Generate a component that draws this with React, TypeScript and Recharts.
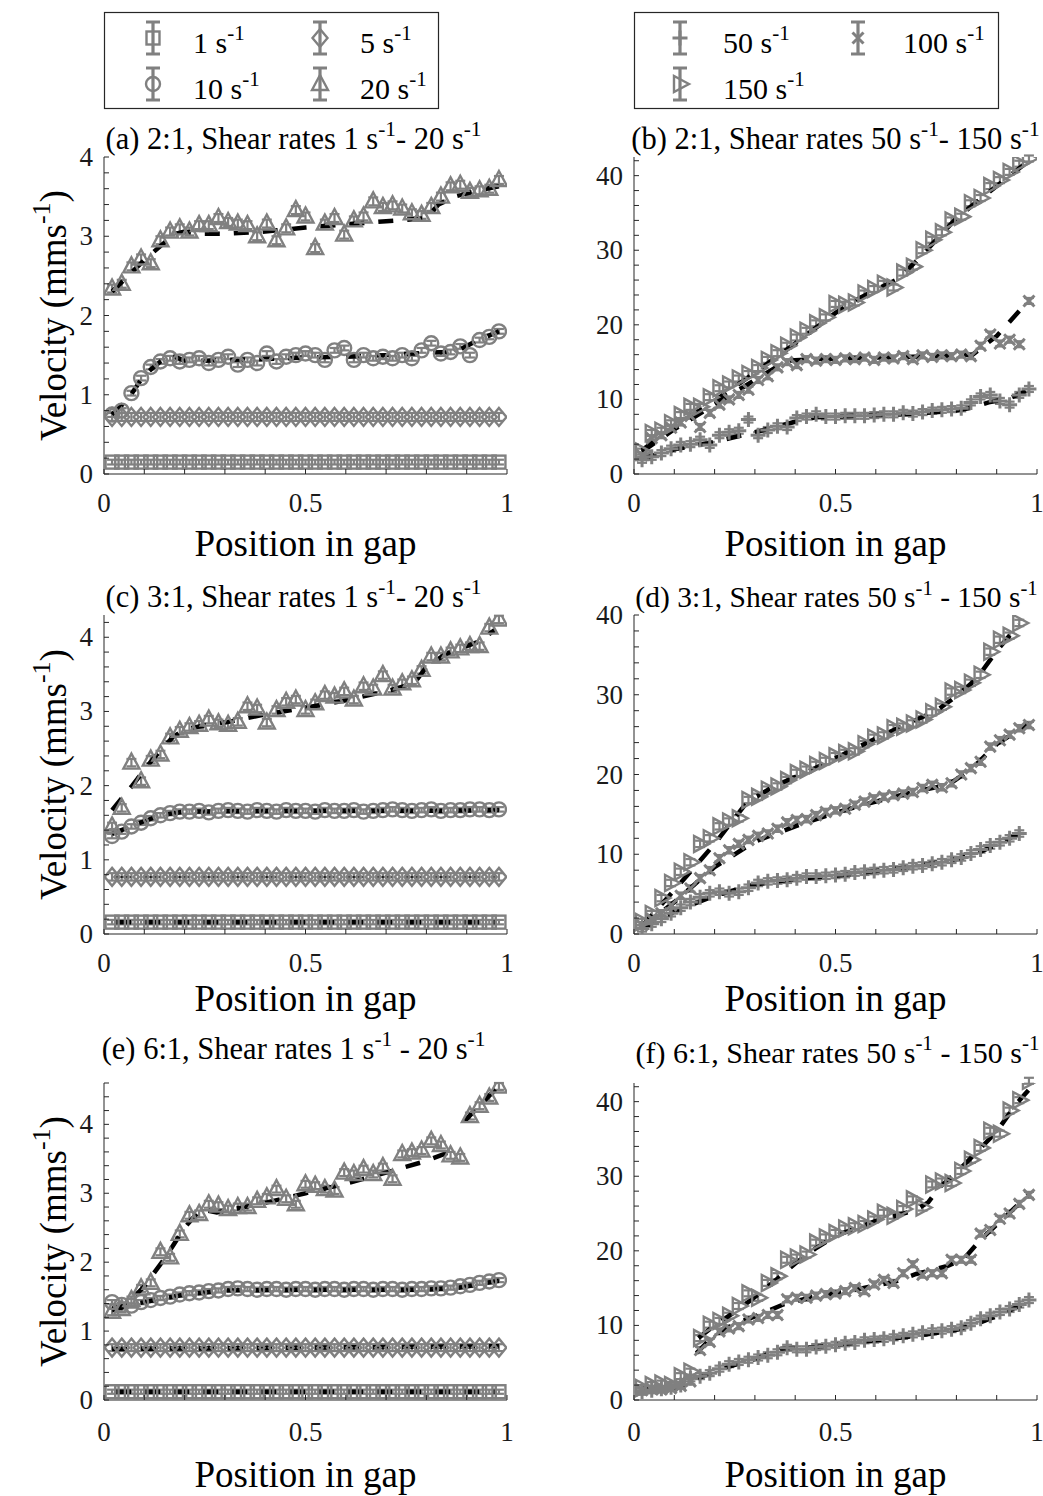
import React from 'react';
import { ComposedChart, Scatter, Line, XAxis, YAxis, ErrorBar } from 'recharts';

// ---------- shared x positions (position in gap) ----------
const POS = [
  0.02, 0.044, 0.068, 0.092, 0.116, 0.14, 0.164, 0.188, 0.212, 0.236,
  0.26, 0.284, 0.308, 0.332, 0.356, 0.38, 0.404, 0.428, 0.452, 0.476,
  0.5, 0.524, 0.548, 0.572, 0.596, 0.62, 0.644, 0.668, 0.692, 0.716,
  0.74, 0.764, 0.788, 0.812, 0.836, 0.86, 0.884, 0.908, 0.932, 0.956,
  0.98,
];

// ---------- panel (a) 2:1, 1-20 s^-1 ----------
const A_1 = [
  0.15, 0.15, 0.15, 0.15, 0.15, 0.15, 0.15, 0.15, 0.15, 0.15,
  0.15, 0.15, 0.15, 0.15, 0.15, 0.15, 0.15, 0.15, 0.15, 0.15,
  0.15, 0.15, 0.15, 0.15, 0.15, 0.15, 0.15, 0.15, 0.15, 0.15,
  0.15, 0.15, 0.15, 0.15, 0.15, 0.15, 0.15, 0.15, 0.15, 0.15,
  0.15,
];
const A_5 = [
  0.72, 0.72, 0.72, 0.72, 0.72, 0.72, 0.72, 0.72, 0.72, 0.72,
  0.72, 0.72, 0.72, 0.72, 0.72, 0.72, 0.72, 0.72, 0.72, 0.72,
  0.72, 0.72, 0.72, 0.72, 0.72, 0.72, 0.72, 0.72, 0.72, 0.72,
  0.72, 0.72, 0.72, 0.72, 0.72, 0.72, 0.72, 0.72, 0.72, 0.72,
  0.72,
];
const A_10 = [
  0.75, 0.8, 1.02, 1.21, 1.35, 1.42, 1.46, 1.42, 1.44, 1.46,
  1.4, 1.44, 1.48, 1.38, 1.44, 1.4, 1.52, 1.42, 1.48, 1.5,
  1.52, 1.5, 1.44, 1.56, 1.59, 1.44, 1.5, 1.46, 1.48, 1.46,
  1.5, 1.46, 1.56, 1.65, 1.52, 1.54, 1.61, 1.5, 1.69, 1.73,
  1.8,
];
const A_20 = [
  2.34, 2.4, 2.62, 2.72, 2.66, 2.95, 3.06, 3.1, 3.06, 3.14,
  3.14, 3.23, 3.18, 3.16, 3.14, 3.0, 3.16, 2.95, 3.1, 3.33,
  3.25, 2.85, 3.16, 3.23, 3.02, 3.2, 3.25, 3.44, 3.37, 3.39,
  3.35, 3.29, 3.27, 3.37, 3.5, 3.63, 3.65, 3.56, 3.58, 3.6,
  3.71,
];
const A_F10_X = [0.02, 0.06, 0.1, 0.14, 0.165, 0.2, 0.25, 0.3, 0.4, 0.5, 0.6, 0.7, 0.8, 0.85, 0.88, 0.92, 0.98];
const A_F10_Y = [0.75, 0.95, 1.25, 1.42, 1.5, 1.43, 1.43, 1.44, 1.45, 1.47, 1.48, 1.5, 1.53, 1.54, 1.56, 1.67, 1.8];
const A_F20_X = [0.02, 0.05, 0.1, 0.15, 0.17, 0.2, 0.25, 0.3, 0.4, 0.5, 0.6, 0.7, 0.78, 0.8, 0.83, 0.87, 0.93, 0.98];
const A_F20_Y = [2.3, 2.45, 2.7, 2.92, 3.02, 3.06, 3.03, 3.03, 3.06, 3.11, 3.15, 3.19, 3.22, 3.23, 3.4, 3.5, 3.58, 3.63];

// ---------- panel (b) 2:1, 50-150 s^-1 ----------
const B_50 = [
  1.9, 2.3, 2.8, 3.4, 3.9, 4.0, 4.6, 3.9, 5.2, 5.6,
  5.8, 7.3, 5.2, 5.9, 6.4, 6.3, 7.5, 7.7, 8.0, 7.7,
  7.7, 7.8, 7.8, 7.8, 7.9, 8.0, 8.0, 8.2, 8.1, 8.3,
  8.5, 8.6, 8.7, 8.8, 9.6, 10.4, 10.6, 9.8, 9.3, 10.6,
  11.4,
];
const B_100 = [
  2.5, 4.8, 5.2, 6.2, 6.9, 7.8, 6.3, 8.2, 9.3, 10.0,
  10.6, 11.3, 12.6, 13.1, 14.3, 15.0, 14.6, 15.4, 15.2, 15.4,
  15.3, 15.5, 15.4, 15.6, 15.3, 15.6, 15.5, 15.8, 15.4, 15.9,
  15.7, 15.9, 15.8, 16.0, 15.8, 17.2, 18.7, 17.5, 18.0, 17.4,
  23.2,
];
const B_150 = [
  3.0, 5.5, 5.8, 6.8, 7.9, 9.0, 9.0, 10.3, 11.5, 12.0,
  12.8, 13.4, 14.2, 15.3, 16.2, 17.2, 18.3, 19.2, 20.2, 21.0,
  22.8, 22.7, 23.0, 24.2, 24.8, 25.5, 25.0, 27.0, 27.8, 30.0,
  31.4, 32.4, 34.0, 34.5, 36.3, 37.0, 38.6, 39.4, 40.5, 41.6,
  42.3,
];
const B_F50_X = [0.02, 0.1, 0.2, 0.3, 0.4, 0.45, 0.5, 0.6, 0.7, 0.8, 0.83, 0.88, 0.93, 0.98];
const B_F50_Y = [2.0, 3.3, 4.3, 5.6, 7.0, 7.6, 7.7, 7.9, 8.1, 8.5, 8.8, 9.6, 10.1, 11.3];
const B_F100_X = [0.02, 0.1, 0.2, 0.3, 0.38, 0.45, 0.6, 0.75, 0.84, 0.9, 0.98];
const B_F100_Y = [3.0, 6.0, 9.3, 12.6, 15.2, 15.4, 15.6, 15.8, 16.0, 18.5, 23.3];
const B_F150_X = [0.02, 0.1, 0.2, 0.3, 0.4, 0.5, 0.55, 0.6, 0.65, 0.7, 0.8, 0.9, 0.98];
const B_F150_Y = [3.2, 6.3, 9.8, 13.6, 17.5, 21.6, 23.3, 24.7, 26.0, 28.5, 34.3, 38.6, 42.0];

// ---------- panel (c) 3:1, 1-20 s^-1 ----------
const C_1 = [
  0.16, 0.16, 0.16, 0.16, 0.16, 0.16, 0.16, 0.16, 0.16, 0.16,
  0.16, 0.16, 0.16, 0.16, 0.16, 0.16, 0.16, 0.16, 0.16, 0.16,
  0.16, 0.16, 0.16, 0.16, 0.16, 0.16, 0.16, 0.16, 0.16, 0.16,
  0.16, 0.16, 0.16, 0.16, 0.16, 0.16, 0.16, 0.16, 0.16, 0.16,
  0.16,
];
const C_5 = [
  0.77, 0.77, 0.77, 0.77, 0.77, 0.77, 0.77, 0.77, 0.77, 0.77,
  0.77, 0.77, 0.77, 0.77, 0.77, 0.77, 0.77, 0.77, 0.77, 0.77,
  0.77, 0.77, 0.77, 0.77, 0.77, 0.77, 0.77, 0.77, 0.77, 0.77,
  0.77, 0.77, 0.77, 0.77, 0.77, 0.77, 0.77, 0.77, 0.77, 0.77,
  0.77,
];
const C_10 = [
  1.32, 1.38, 1.45, 1.5, 1.56, 1.6, 1.63, 1.65, 1.65, 1.66,
  1.64, 1.66, 1.67, 1.66, 1.65, 1.67, 1.66, 1.65, 1.67, 1.66,
  1.66, 1.65, 1.67, 1.66, 1.66, 1.67, 1.65, 1.66, 1.67, 1.68,
  1.67, 1.66, 1.67, 1.68, 1.66, 1.67, 1.67, 1.68, 1.68, 1.67,
  1.68,
];
const C_20 = [
  1.45, 1.7, 2.31, 2.06, 2.35, 2.42, 2.65, 2.74, 2.79, 2.82,
  2.89, 2.84, 2.82, 2.86, 3.07, 3.04, 2.85, 3.02, 3.13, 3.16,
  3.02, 3.11, 3.22, 3.2, 3.27, 3.16, 3.34, 3.31, 3.49, 3.31,
  3.38, 3.42, 3.56, 3.74, 3.74, 3.81, 3.85, 3.88, 3.88, 4.13,
  4.24,
];
const C_F1_X = [0.03, 0.97];
const C_F1_Y = [0.16, 0.16];
const C_F5_X = [0.03, 0.97];
const C_F5_Y = [0.77, 0.77];
const C_F10_X = [0.02, 0.08, 0.14, 0.2, 0.5, 0.8, 0.98];
const C_F10_Y = [1.35, 1.48, 1.6, 1.65, 1.66, 1.66, 1.67];
const C_F20_X = [0.02, 0.07, 0.12, 0.17, 0.2, 0.25, 0.3, 0.4, 0.5, 0.6, 0.7, 0.77, 0.8, 0.85, 0.93, 0.97];
const C_F20_Y = [1.67, 2.0, 2.35, 2.65, 2.76, 2.81, 2.85, 2.96, 3.05, 3.15, 3.27, 3.38, 3.6, 3.78, 3.94, 4.1];

// ---------- panel (d) 3:1, 50-150 s^-1 ----------
const D_50 = [
  0.7, 1.3, 1.9, 2.6, 3.3, 4.0, 4.6, 5.1, 5.3, 5.1,
  5.3, 5.8, 6.4, 6.6, 6.7, 6.8, 7.0, 7.2, 7.2, 7.3,
  7.4, 7.5, 7.7, 7.8, 7.9, 8.0, 8.1, 8.3, 8.5, 8.6,
  8.8, 9.0, 9.3, 9.6, 10.1, 10.6, 11.1, 11.5, 12.0, 12.6,
  null,
];
const D_100 = [
  1.1, 1.9, 2.6, 3.6, 4.8, 5.7, 7.0, 8.0, 9.5, 10.5,
  11.3, 11.8, 12.3, 12.6, 13.2, 14.0, 14.3, 14.4, 14.9, 15.3,
  15.5, 15.7, 16.2, 16.6, 17.0, 17.2, 17.4, 17.6, 17.8, 18.3,
  18.7, 18.4, 18.9, 20.0, 20.8, 21.6, 23.5, 24.3, 25.0, 25.8,
  26.2,
];
const D_150 = [
  1.5, 2.5, 4.5, 6.4, 7.8, 9.0, 11.3, 12.0, 13.5, 14.1,
  14.5, 16.8, 17.2, 18.1, 18.5, 19.3, 20.2, 20.6, 21.2, 21.7,
  22.3, 22.7, 22.9, 23.8, 24.6, 24.9, 25.8, 26.0, 26.4, 26.9,
  27.8, 28.5, 30.4, 30.6, 31.5, 32.5, 35.4, 36.9, 37.4, 39.0,
  null,
];
const D_F50_X = [0.02, 0.1, 0.2, 0.3, 0.4, 0.5, 0.6, 0.7, 0.8, 0.85, 0.9, 0.955];
const D_F50_Y = [0.7, 2.8, 4.8, 6.2, 6.9, 7.3, 7.9, 8.5, 9.4, 10.1, 11.2, 12.6];
const D_F100_X = [0.02, 0.1, 0.2, 0.3, 0.4, 0.5, 0.6, 0.7, 0.78, 0.84, 0.9, 0.98];
const D_F100_Y = [0.8, 4.0, 8.4, 11.6, 13.5, 15.2, 16.6, 17.9, 18.7, 20.8, 23.8, 26.4];
const D_F150_X = [0.02, 0.1, 0.2, 0.28, 0.35, 0.45, 0.55, 0.65, 0.75, 0.8, 0.85, 0.9, 0.955];
const D_F150_Y = [1.0, 5.5, 11.3, 16.5, 18.6, 20.8, 23.3, 25.7, 28.0, 29.8, 32.0, 35.5, 38.8];

// ---------- panel (e) 6:1, 1-20 s^-1 ----------
const E_1 = [
  0.12, 0.12, 0.12, 0.12, 0.12, 0.12, 0.12, 0.12, 0.12, 0.12,
  0.12, 0.12, 0.12, 0.12, 0.12, 0.12, 0.12, 0.12, 0.12, 0.12,
  0.12, 0.12, 0.12, 0.12, 0.12, 0.12, 0.12, 0.12, 0.12, 0.12,
  0.12, 0.12, 0.12, 0.12, 0.12, 0.12, 0.12, 0.12, 0.12, 0.12,
  0.12,
];
const E_5 = [
  0.76, 0.76, 0.76, 0.76, 0.76, 0.76, 0.76, 0.76, 0.76, 0.76,
  0.76, 0.76, 0.76, 0.76, 0.76, 0.76, 0.76, 0.76, 0.76, 0.76,
  0.76, 0.76, 0.76, 0.76, 0.76, 0.76, 0.76, 0.76, 0.76, 0.76,
  0.76, 0.76, 0.76, 0.76, 0.76, 0.76, 0.76, 0.76, 0.76, 0.76,
  0.76,
];
const E_10 = [
  1.42, 1.38, 1.37, 1.42, 1.45, 1.48, 1.5, 1.53, 1.55, 1.56,
  1.58, 1.59, 1.61, 1.62, 1.61, 1.6, 1.61, 1.61, 1.6, 1.61,
  1.61, 1.6, 1.61, 1.61, 1.6, 1.61, 1.61, 1.6, 1.61, 1.61,
  1.6, 1.61, 1.61, 1.62, 1.62, 1.63, 1.65, 1.67, 1.7, 1.72,
  1.74,
];
const E_20 = [
  1.28, 1.32, 1.45, 1.62, 1.7, 2.15, 2.07, 2.41, 2.68, 2.7,
  2.84, 2.82, 2.77, 2.8, 2.8, 2.89, 2.94, 3.06, 2.92, 2.84,
  3.13, 3.11, 3.06, 3.04, 3.3, 3.28, 3.35, 3.28, 3.38, 3.21,
  3.57, 3.59, 3.62, 3.76, 3.7, 3.55, 3.52, 4.12, 4.27, 4.39,
  4.55,
];
const E_F1_X = [0.03, 0.97];
const E_F1_Y = [0.12, 0.12];
const E_F5_X = [0.02, 0.98];
const E_F5_Y = [0.74, 0.78];
const E_F10_X = [0.02, 0.1, 0.2, 0.3, 0.5, 0.8, 0.88, 0.98];
const E_F10_Y = [1.33, 1.42, 1.53, 1.59, 1.6, 1.6, 1.63, 1.73];
const E_F20_X = [0.02, 0.05, 0.1, 0.15, 0.2, 0.24, 0.28, 0.4, 0.5, 0.6, 0.7, 0.8, 0.875, 0.885, 0.895, 0.98];
const E_F20_Y = [1.3, 1.35, 1.65, 2.05, 2.5, 2.77, 2.72, 2.86, 3.0, 3.14, 3.3, 3.47, 3.64, null, 4.05, 4.56];

// ---------- panel (f) 6:1, 50-150 s^-1 ----------
const F_50 = [
  1.1, 1.3, 1.5, 1.7, 2.0, 2.9, 3.2, 3.6, 4.2, 4.8,
  5.1, 5.4, 5.7, 6.0, 6.4, 7.0, 6.8, 6.8, 7.1, 7.2,
  7.4, 7.6, 7.7, 8.0, 8.1, 8.2, 8.4, 8.6, 8.8, 9.0,
  9.2, 9.3, 9.5, 9.7, 10.3, 10.9, 11.3, 11.8, 12.2, 12.8,
  13.4,
];
const F_100 = [
  1.3, 1.5, 1.4, 1.6, 1.9, 2.5, 6.7, 7.8, 9.2, 9.6,
  9.9, 10.8, 11.0, 11.4, 11.4, 13.5, 13.7, 13.7, 14.0, 14.2,
  14.3, 14.6, 15.0, 14.6, 15.5, 16.1, 15.7, 17.0, 18.2, 16.8,
  17.0, 17.0, 18.8, 18.8, 18.8, 22.3, 22.8, 24.3, 25.0, 26.3,
  27.5,
];
const F_150 = [
  1.6, 2.0, 2.2, 2.0, 3.2, 3.8, 8.3, 10.1, 10.6, 11.3,
  12.6, 14.3, 13.7, 15.7, 16.6, 18.8, 19.1, 19.5, 21.1, 21.8,
  22.4, 23.0, 23.3, 23.6, 24.2, 25.1, 24.7, 25.6, 26.9, 25.8,
  28.9, 29.3, 29.1, 30.7, 32.2, 33.8, 36.1, 35.7, 38.8, 40.2,
  42.8,
];
const F_F50_X = [0.02, 0.1, 0.13, 0.2, 0.3, 0.37, 0.45, 0.55, 0.7, 0.8, 0.85, 0.92, 0.98];
const F_F50_Y = [1.5, 1.5, 2.2, 3.9, 5.5, 6.9, 7.1, 7.7, 8.6, 9.4, 10.2, 11.7, 13.2];
const F_F100_X = [0.155, 0.2, 0.25, 0.3, 0.37, 0.45, 0.55, 0.65, 0.7, 0.78, 0.82, 0.86, 0.92, 0.98];
const F_F100_Y = [6.3, 8.7, 10.2, 11.2, 12.8, 13.9, 14.8, 15.9, 16.9, 18.0, 19.0, 21.5, 24.5, 27.6];
const F_F150_X = [0.16, 0.2, 0.25, 0.3, 0.35, 0.4, 0.45, 0.5, 0.55, 0.6, 0.65, 0.7, 0.73, 0.76, 0.8, 0.85, 0.9, 0.95, 0.98];
const F_F150_Y = [8.3, 10.0, 11.8, 13.8, 16.0, 18.3, 20.3, 22.0, 23.0, 24.0, 24.7, 25.5, 26.5, 28.6, 30.5, 33.2, 36.0, 39.8, 41.6];

// ---------- error bar half-lengths (per series) ----------
const ERR_LOW = [0.03, 0.05, 0.03, 0.05]; // 1, 5, 10, 20 s^-1
const ERR_HIGH = [0.4, 0.4, 0.4]; // 50, 100, 150 s^-1

// ---------- labels ----------
const X_TICK_LABELS = ['0', '0.5', '1'];
const LOW_RATES = ['1', '10', '5', '20'];
const HIGH_RATES = ['50', '150', '100'];

// ---------- styling ----------
const FONT = '"Liberation Serif", "Times New Roman", Times, serif';
const GRAY = '#808080';
const AX = '#262626';
const PLOT_W = 403;

type Sym = 'square' | 'circle' | 'diamond' | 'triangle' | 'plus' | 'cross' | 'tright';

function Mk({ cx, cy, sym }: { cx: number; cy: number; sym: Sym }) {
  if (cx == null || cy == null || isNaN(cx) || isNaN(cy)) return null;
  const st = { fill: 'none', stroke: GRAY, strokeWidth: 2.4 };
  switch (sym) {
    case 'square':
      return <rect x={cx - 6.5} y={cy - 6.5} width={13} height={13} {...st} />;
    case 'circle':
      return <circle cx={cx} cy={cy} r={7} {...st} />;
    case 'diamond':
      return <polygon points={`${cx},${cy - 9} ${cx + 7.5},${cy} ${cx},${cy + 9} ${cx - 7.5},${cy}`} {...st} />;
    case 'triangle':
      return <polygon points={`${cx},${cy - 9} ${cx + 8},${cy + 6} ${cx - 8},${cy + 6}`} {...st} />;
    case 'tright':
      return <polygon points={`${cx + 9},${cy} ${cx - 6},${cy - 8} ${cx - 6},${cy + 8}`} {...st} />;
    case 'plus':
      return <path d={`M${cx - 7.5},${cy}H${cx + 7.5}M${cx},${cy - 7.5}V${cy + 7.5}`} stroke={GRAY} strokeWidth={3} fill="none" />;
    case 'cross':
      return (
        <path
          d={`M${cx - 5.5},${cy - 5.5}L${cx + 5.5},${cy + 5.5}M${cx - 5.5},${cy + 5.5}L${cx + 5.5},${cy - 5.5}`}
          stroke={GRAY}
          strokeWidth={3}
          fill="none"
        />
      );
  }
  return null;
}

type SeriesCfg = { sym: Sym; vals: (number | null)[]; err: number };
type FitCfg = { xs: number[]; ys: (number | null)[]; thin?: boolean };
type PanelCfg = {
  key: string;
  left: number;
  top: number;
  h: number;
  yMax: number;
  yStep: number;
  yMajor: number;
  series: SeriesCfg[];
  fits: FitCfg[];
  title: [string, string];
  titleDx: number;
  titleDy: number;
  titleSize: number;
  xLabDy: number;
  tickDy: number;
};

const PANELS: PanelCfg[] = [
  {
    key: 'a', left: 104, top: 157, h: 317, yMax: 4, yStep: 0.2, yMajor: 1,
    titleDx: -12, titleDy: 8, titleSize: 30.5, xLabDy: 82, tickDy: 38,
    series: [
      { sym: 'square', vals: A_1, err: ERR_LOW[0] },
      { sym: 'diamond', vals: A_5, err: ERR_LOW[1] },
      { sym: 'circle', vals: A_10, err: ERR_LOW[2] },
      { sym: 'triangle', vals: A_20, err: ERR_LOW[3] },
    ],
    fits: [
      { xs: A_F10_X, ys: A_F10_Y },
      { xs: A_F20_X, ys: A_F20_Y },
    ],
    title: ['(a) 2:1, Shear rates 1 s', '- 20 s'],
  },
  {
    key: 'b', left: 634, top: 157, h: 317, yMax: 42.5, yStep: 2, yMajor: 10,
    titleDx: 0, titleDy: 8, titleSize: 30.5, xLabDy: 82, tickDy: 38,
    series: [
      { sym: 'plus', vals: B_50, err: ERR_HIGH[0] },
      { sym: 'cross', vals: B_100, err: ERR_HIGH[1] },
      { sym: 'tright', vals: B_150, err: ERR_HIGH[2] },
    ],
    fits: [
      { xs: B_F50_X, ys: B_F50_Y },
      { xs: B_F100_X, ys: B_F100_Y },
      { xs: B_F150_X, ys: B_F150_Y },
    ],
    title: ['(b) 2:1, Shear rates 50 s', '- 150 s'],
  },
  {
    key: 'c', left: 104, top: 615, h: 319, yMax: 4.3, yStep: 0.2, yMajor: 1,
    titleDx: -12, titleDy: 8, titleSize: 30.5, xLabDy: 77, tickDy: 38,
    series: [
      { sym: 'square', vals: C_1, err: ERR_LOW[0] },
      { sym: 'diamond', vals: C_5, err: ERR_LOW[1] },
      { sym: 'circle', vals: C_10, err: ERR_LOW[2] },
      { sym: 'triangle', vals: C_20, err: ERR_LOW[3] },
    ],
    fits: [
      { xs: C_F1_X, ys: C_F1_Y },
      { xs: C_F5_X, ys: C_F5_Y, thin: true },
      { xs: C_F10_X, ys: C_F10_Y },
      { xs: C_F20_X, ys: C_F20_Y },
    ],
    title: ['(c) 3:1, Shear rates 1 s', '- 20 s'],
  },
  {
    key: 'd', left: 634, top: 615, h: 319, yMax: 40, yStep: 2, yMajor: 10,
    titleDx: 1, titleDy: 8, titleSize: 29.5, xLabDy: 77, tickDy: 38,
    series: [
      { sym: 'plus', vals: D_50, err: ERR_HIGH[0] },
      { sym: 'cross', vals: D_100, err: ERR_HIGH[1] },
      { sym: 'tright', vals: D_150, err: ERR_HIGH[2] },
    ],
    fits: [
      { xs: D_F50_X, ys: D_F50_Y },
      { xs: D_F100_X, ys: D_F100_Y },
      { xs: D_F150_X, ys: D_F150_Y },
    ],
    title: ['(d) 3:1, Shear rates 50 s', ' - 150 s'],
  },
  {
    key: 'e', left: 104, top: 1083, h: 317, yMax: 4.6, yStep: 0.2, yMajor: 1,
    titleDx: -12, titleDy: 24, titleSize: 30.5, xLabDy: 87, tickDy: 41,
    series: [
      { sym: 'square', vals: E_1, err: ERR_LOW[0] },
      { sym: 'diamond', vals: E_5, err: ERR_LOW[1] },
      { sym: 'circle', vals: E_10, err: ERR_LOW[2] },
      { sym: 'triangle', vals: E_20, err: ERR_LOW[3] },
    ],
    fits: [
      { xs: E_F1_X, ys: E_F1_Y },
      { xs: E_F5_X, ys: E_F5_Y },
      { xs: E_F10_X, ys: E_F10_Y },
      { xs: E_F20_X, ys: E_F20_Y },
    ],
    title: ['(e) 6:1, Shear rates 1 s', ' - 20 s'],
  },
  {
    key: 'f', left: 634, top: 1083, h: 317, yMax: 42.5, yStep: 2, yMajor: 10,
    titleDx: 2, titleDy: 20, titleSize: 30, xLabDy: 87, tickDy: 41,
    series: [
      { sym: 'plus', vals: F_50, err: ERR_HIGH[0] },
      { sym: 'cross', vals: F_100, err: ERR_HIGH[1] },
      { sym: 'tright', vals: F_150, err: ERR_HIGH[2] },
    ],
    fits: [
      { xs: F_F50_X, ys: F_F50_Y },
      { xs: F_F100_X, ys: F_F100_Y },
      { xs: F_F150_X, ys: F_F150_Y },
    ],
    title: ['(f) 6:1, Shear rates 50 s', ' - 150 s'],
  },
];

function steps(max: number, step: number) {
  const out: number[] = [];
  for (let i = 0; i * step <= max + 1e-9; i++) out.push(+(i * step).toFixed(4));
  return out;
}
const isMajor = (v: number, m: number) => Math.abs(v / m - Math.round(v / m)) < 1e-6;
const TL = 5;

const xLabel = (v: number) => (v === 0 ? X_TICK_LABELS[0] : v === 0.5 ? X_TICK_LABELS[1] : X_TICK_LABELS[2]);

function Panel({ cfg }: { cfg: PanelCfg }) {
  const ML = 50, MT = 20, MR = 20, XH = 50;
  const W = ML + PLOT_W + MR;
  const H = MT + cfg.h + XH;
  const xt = steps(1, 0.1);
  const yt = steps(cfg.yMax, cfg.yStep);

  const bottomTick = (p: any) => {
    const v = p.payload.value;
    return (
      <g>
        <line x1={p.x} x2={p.x} y1={p.y} y2={p.y - TL} stroke={AX} strokeWidth={1} />
        {isMajor(v, 0.5) && (
          <text x={p.x} y={p.y + cfg.tickDy} textAnchor="middle" fontFamily={FONT} fontSize={27} fill="#1a1a1a">
            {xLabel(v)}
          </text>
        )}
      </g>
    );
  };
  const topTick = (p: any) => (
    <line x1={p.x} x2={p.x} y1={p.y} y2={p.y + TL} stroke={AX} strokeWidth={1} />
  );
  const leftTick = (p: any) => {
    const v = p.payload.value;
    return (
      <g>
        <line x1={p.x} x2={p.x + TL} y1={p.y} y2={p.y} stroke={AX} strokeWidth={1} />
        {isMajor(v, cfg.yMajor) && (
          <text x={p.x - 11} y={p.y + 9} textAnchor="end" fontFamily={FONT} fontSize={27} fill="#1a1a1a">
            {String(Math.round(v))}
          </text>
        )}
      </g>
    );
  };
  const rightTick = (p: any) => (
    <line x1={p.x} x2={p.x - TL} y1={p.y} y2={p.y} stroke={AX} strokeWidth={1} />
  );

  return (
    <div style={{ position: 'absolute', left: cfg.left - ML, top: cfg.top - MT }}>
      <ComposedChart width={W} height={H} margin={{ top: MT, right: MR, bottom: 0, left: 0 }}>
        <XAxis
          dataKey="x" type="number" domain={[0, 1]} ticks={xt} interval={0} allowDataOverflow
          height={XH} tickSize={0} tickMargin={0} tickLine={false} axisLine={{ stroke: AX }} tick={bottomTick}
        />
        <XAxis
          xAxisId="top" orientation="top" dataKey="x" type="number" domain={[0, 1]} ticks={xt} interval={0}
          allowDataOverflow height={0} tickSize={0} tickMargin={0} tickLine={false} axisLine={{ stroke: AX }}
          tick={topTick}
        />
        <YAxis
          dataKey="y" type="number" domain={[0, cfg.yMax]} ticks={yt} interval={0} allowDataOverflow
          width={ML} tickSize={0} tickMargin={0} tickLine={false} axisLine={{ stroke: AX }} tick={leftTick}
        />
        <YAxis
          yAxisId="right" orientation="right" dataKey="y" type="number" domain={[0, cfg.yMax]} ticks={yt}
          interval={0} allowDataOverflow width={0} tickSize={0} tickMargin={0} tickLine={false}
          axisLine={{ stroke: AX }} tick={rightTick}
        />
        {cfg.series.map((s, si) => {
          const data = s.vals
            .map((v, i) => (v == null ? null : { x: POS[i], y: v, e: s.err }))
            .filter((d) => d !== null);
          return (
            <Scatter
              key={'s' + si}
              data={data as any[]}
              dataKey="y"
              isAnimationActive={false}
              shape={(p: any) => <Mk cx={p.cx} cy={p.cy} sym={s.sym} />}
            >
              <ErrorBar dataKey="e" direction="y" width={5} stroke={GRAY} strokeWidth={2.2} isAnimationActive={false} />
            </Scatter>
          );
        })}
        {cfg.fits.map((f, fi) => (
          <Line
            key={'f' + fi}
            data={f.xs.map((x, i) => ({ x, y: f.ys[i] }))}
            dataKey="y"
            type="linear"
            stroke="#000"
            strokeWidth={f.thin ? 1.5 : 4.5}
            strokeDasharray="15 14"
            dot={false}
            activeDot={false}
            connectNulls={false}
            isAnimationActive={false}
            legendType="none"
          />
        ))}
      </ComposedChart>
    </div>
  );
}

function LegendIcon({ cx, cy, sym }: { cx: number; cy: number; sym: Sym }) {
  return (
    <g>
      <path
        d={`M${cx},${cy - 16}V${cy + 16}M${cx - 7},${cy - 16}H${cx + 7}M${cx - 7},${cy + 16}H${cx + 7}`}
        stroke={GRAY}
        strokeWidth={3.2}
        fill="none"
      />
      <Mk cx={cx} cy={cy} sym={sym} />
    </g>
  );
}

type Part = { t: string; sup?: boolean };
function Rich({ parts, size }: { parts: Part[]; size: number }) {
  const up = size * 0.42;
  let raised = false;
  return (
    <>
      {parts.map((p, i) => {
        let dy = 0;
        if (p.sup && !raised) { dy = -up; raised = true; }
        else if (!p.sup && raised) { dy = up; raised = false; }
        return (
          <tspan key={i} dy={dy} fontSize={p.sup ? size * 0.7 : size}>
            {p.t}
          </tspan>
        );
      })}
    </>
  );
}

function Overlay() {
  const LS = 30;
  return (
    <svg
      width={1043}
      height={1496}
      style={{ position: 'absolute', left: 0, top: 0, pointerEvents: 'none', overflow: 'visible' }}
    >
      {/* legends */}
      <rect x={104.5} y={12.5} width={334} height={96} fill="#fff" stroke={AX} strokeWidth={1.2} />
      <rect x={634.5} y={12.5} width={364} height={96} fill="#fff" stroke={AX} strokeWidth={1.2} />
      <LegendIcon cx={153} cy={38} sym="square" />
      <LegendIcon cx={153} cy={84} sym="circle" />
      <LegendIcon cx={320} cy={38} sym="diamond" />
      <LegendIcon cx={320} cy={84} sym="triangle" />
      <LegendIcon cx={680} cy={38} sym="plus" />
      <LegendIcon cx={680} cy={84} sym="tright" />
      <LegendIcon cx={858} cy={38} sym="cross" />
      {[
        { x: 193, y: 53, t: LOW_RATES[0] },
        { x: 193, y: 99, t: LOW_RATES[1] },
        { x: 360, y: 53, t: LOW_RATES[2] },
        { x: 360, y: 99, t: LOW_RATES[3] },
        { x: 723, y: 53, t: HIGH_RATES[0] },
        { x: 723, y: 99, t: HIGH_RATES[1] },
        { x: 903, y: 53, t: HIGH_RATES[2] },
      ].map((l, i) => (
        <text key={'lg' + i} x={l.x} y={l.y} fontFamily={FONT} fontSize={LS} fill="#000" style={{ whiteSpace: 'pre' }}>
          <Rich parts={[{ t: `${l.t} s` }, { t: '-1', sup: true }]} size={LS} />
        </text>
      ))}

      {PANELS.map((p) => {
        const cx = p.left + PLOT_W / 2;
        const bottom = p.top + p.h;
        return (
          <g key={'ov' + p.key}>
            <text
              x={cx + p.titleDx} y={p.top - p.titleDy} textAnchor="middle" fontFamily={FONT} fontSize={p.titleSize}
              fill="#000" style={{ whiteSpace: 'pre' }}
            >
              <Rich
                parts={[{ t: p.title[0] }, { t: '-1', sup: true }, { t: p.title[1] }, { t: '-1', sup: true }]}
                size={p.titleSize}
              />
            </text>
            <text x={cx} y={bottom + p.xLabDy} textAnchor="middle" fontFamily={FONT} fontSize={37} fill="#000">
              Position in gap
            </text>
            {p.left < 500 && (
              <text
                transform={`translate(66, ${p.top + p.h / 2}) rotate(-90)`}
                textAnchor="middle" fontFamily={FONT} fontSize={37} fill="#000" style={{ whiteSpace: 'pre' }}
              >
                <Rich parts={[{ t: 'Velocity (mms' }, { t: '-1', sup: true }, { t: ')' }]} size={37} />
              </text>
            )}
          </g>
        );
      })}
    </svg>
  );
}

export default function App() {
  return (
    <div style={{ position: 'absolute', left: 0, top: 0, width: 1043, height: 1496, background: '#fff' }}>
      {PANELS.map((p) => (
        <Panel key={p.key} cfg={p} />
      ))}
      <Overlay />
    </div>
  );
}
